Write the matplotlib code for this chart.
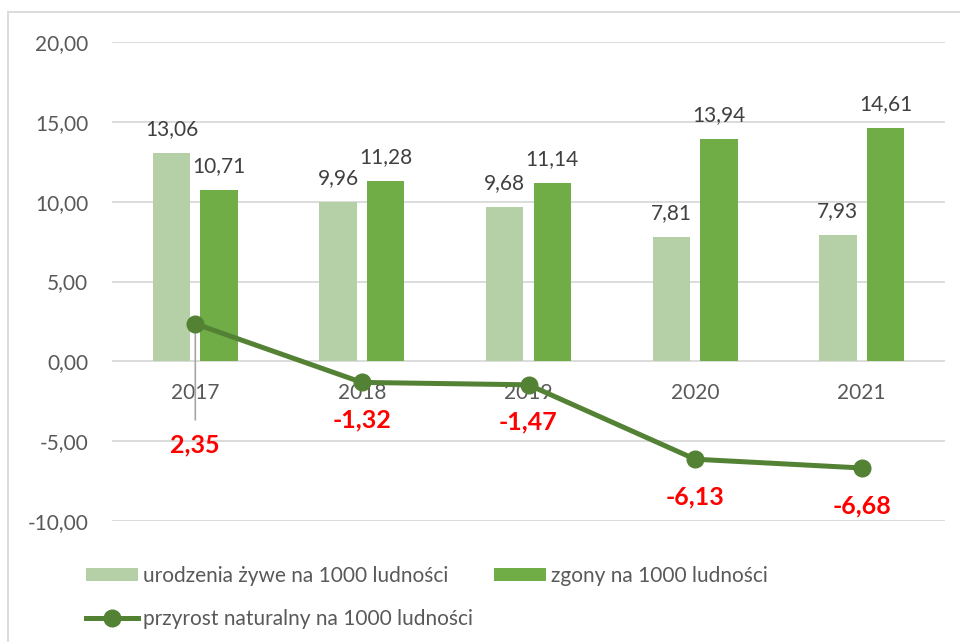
import matplotlib.pyplot as plt
from matplotlib.patches import Rectangle

plt.rcParams['font.family'] = ['Lato', 'DejaVu Sans']

years = ['2017', '2018', '2019', '2020', '2021']
births = [13.06, 9.96, 9.68, 7.81, 7.93]
deaths = [10.71, 11.28, 11.14, 13.94, 14.61]
growth = [2.35, -1.32, -1.47, -6.13, -6.68]

lbl_births = 'urodzenia żywe na 1000 ludności'
lbl_deaths = 'zgony na 1000 ludności'
lbl_growth = 'przyrost naturalny na 1000 ludności'

c_light = '#b5d0a6'
c_dark = '#70ad47'
c_line = '#548235'
c_text = '#595959'


def fmt(v):
    return f'{v:.2f}'.replace('.', ',')


fig = plt.figure(figsize=(9.6, 6.42), dpi=100)
ax = fig.add_axes([112 / 960, 1 - 521 / 642, 833 / 960, 479 / 642])

x = list(range(len(years)))
w = 0.225
off = 0.143
b1 = ax.bar([i - off for i in x], births, w, color=c_light, label=lbl_births, zorder=2)
b2 = ax.bar([i + off for i in x], deaths, w, color=c_dark, label=lbl_deaths, zorder=2)
ln, = ax.plot(x, growth, color=c_line, lw=3.6, marker='o', ms=12,
              label=lbl_growth, zorder=4)

ax.set_xlim(-0.5, 4.5)
ax.set_ylim(-10, 20)
ax.set_yticks(range(-10, 21, 5))
ax.set_yticklabels([fmt(v) for v in range(-10, 21, 5)], color=c_text, fontsize=15)
ax.tick_params(axis='y', length=0, pad=17)
ax.set_xticks([])
ax.grid(axis='y', color='#d9d9d9', lw=1.3, zorder=0)
ax.set_axisbelow(True)
for s in ax.spines.values():
    s.set_visible(False)

# category names sit right under the zero line
for i, y in enumerate(years):
    ax.annotate(y, (i, 0), xytext=(0, -38), textcoords='offset pixels',
                ha='center', va='baseline', color=c_text, fontsize=15)

for bars, vals in ((b1, births), (b2, deaths)):
    for r, v in zip(bars, vals):
        ax.annotate(fmt(v), (r.get_x() + r.get_width() / 2, v), xytext=(0, 18),
                    textcoords='offset pixels', ha='center', va='baseline',
                    color='#404040', fontsize=15)

for i, v in enumerate(growth):
    if i == 0:
        ax.annotate(fmt(v), (i, v), xytext=(0, -129), textcoords='offset pixels',
                    ha='center', va='baseline', color='red', fontsize=18,
                    fontweight='bold',
                    arrowprops=dict(arrowstyle='-', color='#a6a6a6', lw=1.2,
                                    shrinkA=8, shrinkB=0), zorder=3)
    else:
        ax.annotate(fmt(v), (i, v), xytext=(0, -45), textcoords='offset pixels',
                    ha='center', va='baseline', color='red', fontsize=18,
                    fontweight='bold')

fig.legend([b1, ln, b2], [lbl_births, lbl_growth, lbl_deaths], ncol=2,
           loc='upper left', bbox_to_anchor=(67 / 960, 1 - 547 / 642),
           frameon=False, fontsize=15, handlelength=2.5, handleheight=0.6,
           handletextpad=0.25, columnspacing=1.0, labelspacing=1.1,
           labelcolor=c_text)

fig.patches.append(Rectangle((8 / 960, -0.1), 1.2, 1.1 - 12 / 642,
                             transform=fig.transFigure, fill=False,
                             ec='#d9d9d9', lw=1.3))

fig.savefig('out.png', dpi=100)
